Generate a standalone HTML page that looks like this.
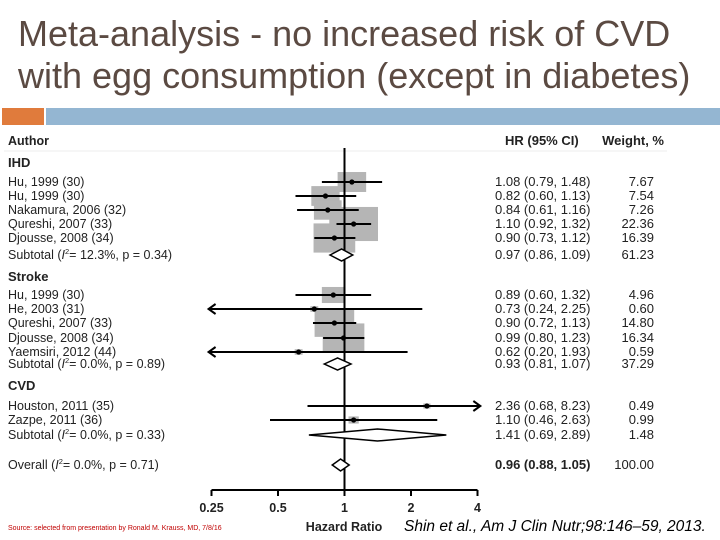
<!DOCTYPE html>
<html><head><meta charset="utf-8">
<style>
html,body{margin:0;padding:0;background:#fff;width:720px;height:540px;overflow:hidden;font-family:"Liberation Sans",sans-serif}
#title{position:absolute;left:18px;top:13px;font-size:36px;line-height:42px;color:#5b4a42;white-space:nowrap}
#ob{position:absolute;left:2px;top:108px;width:42px;height:17px;background:#e07b3c}
#bb{position:absolute;left:46px;top:108px;width:674px;height:17px;background:#94b6d2}
svg{position:absolute;left:0;top:0}
</style></head><body>
<div id="title">Meta-analysis - no increased risk of CVD<br>with egg consumption (except in diabetes)</div>
<div id="ob"></div>
<div id="bb"></div>
<svg id="chart" width="720" height="540"></svg>
<script>
const labels=["Hu, 1999 (30)","Hu, 1999 (30)","Nakamura, 2006 (32)","Qureshi, 2007 (33)","Djousse, 2008 (34)","SUB:Subtotal|12.3%, p = 0.34)","Hu, 1999 (30)","He, 2003 (31)","Qureshi, 2007 (33)","Djousse, 2008 (34)","Yaemsiri, 2012 (44)","SUB:Subtotal|0.0%, p = 0.89)","Houston, 2011 (35)","Zazpe, 2011 (36)","SUB:Subtotal|0.0%, p = 0.33)","OV:Overall|0.0%, p = 0.71)"];
const hr=[1.08,0.82,0.84,1.10,0.90,0.97,0.89,0.73,0.90,0.99,0.62,0.93,2.36,1.10,1.41,0.96];
const lo=[0.79,0.60,0.61,0.92,0.73,0.86,0.60,0.24,0.72,0.80,0.20,0.81,0.68,0.46,0.69,0.88];
const hi=[1.48,1.13,1.16,1.32,1.12,1.09,1.32,2.25,1.13,1.23,1.93,1.07,8.23,2.63,2.89,1.05];
const weights=[7.67,7.54,7.26,22.36,16.39,61.23,4.96,0.60,14.80,16.34,0.59,37.29,0.49,0.99,1.48,100.00];
const rowY=[182,196,210,224,238,255,295,309,323,338,352,364,406,420,435,465];
const groups=[["IHD",163],["Stroke",277],["CVD",386]];
const ticks=[0.25,0.5,1,2,4];
const tickLabels=["0.25","0.5","1","2","4"];
const NS="http://www.w3.org/2000/svg";
const svg=document.getElementById('chart');
const x=v=>344.5+66.5*Math.log2(v);
function el(t,a,p){const e=document.createElementNS(NS,t);for(const k in a)e.setAttribute(k,a[k]);(p||svg).appendChild(e);return e;}
function txt(s,xx,yy,o){const e=el('text',Object.assign({x:xx,y:yy,'font-size':12.5,fill:'#222'},o||{}));e.textContent=s;return e;}
const panel=el('rect',{x:0,y:127,width:667,height:413,fill:'#fff'});


el('line',{x1:4,y1:151,x2:667,y2:151,stroke:'#eee'});
let h;
h=txt("Author",8,145,{'font-weight':'bold','font-size':12.5});

h=txt("HR (95% CI)",505,145,{'font-weight':'bold','font-size':13});

h=txt("Weight, %",664,145,{'font-weight':'bold','font-size':13,'text-anchor':'end'});

groups.forEach(g=>{const t=txt(g[0],8,g[1]+4,{'font-weight':'bold','font-size':13});

});
labels.forEach((l,i)=>{
  if(l.indexOf(':')>=0)return;
  const w=10.3*Math.sqrt(weights[i]);
  const r=el('rect',{x:x(hr[i])-w/2,y:rowY[i]-w*0.35,width:w,height:w*0.7,fill:'#b5b5b5'});
  
  
});
const ref=el('line',{x1:x(1),y1:148,x2:x(1),y2:490,stroke:'#000','stroke-width':2});


const xmin=0.25,xmax=4;
labels.forEach((l,i)=>{
  const y=rowY[i];
  let name=l,kind='study';
  if(l.startsWith('SUB:')||l.startsWith('OV:')){kind=l.startsWith('OV')?'overall':'subtotal';}
  if(kind==='study'){
    const a=Math.max(lo[i],xmin*0.97),b=Math.min(hi[i],xmax*1.03);
    const ln=el('line',{x1:x(a),y1:y,x2:x(b),y2:y,stroke:'#000','stroke-width':2});
    
    
    if(lo[i]<xmin){el('polyline',{points:`${x(a)+7},${y-5} ${x(a)},${y} ${x(a)+7},${y+5}`,fill:'none',stroke:'#000','stroke-width':2});}
    if(hi[i]>xmax){el('polyline',{points:`${x(b)-7},${y-5} ${x(b)},${y} ${x(b)-7},${y+5}`,fill:'none',stroke:'#000','stroke-width':2});}
    const d=el('circle',{cx:x(hr[i]),cy:y,r:2.6,fill:'#000'});
    
    
    const t=txt(name,8,y+4);
    
    
  } else {
    const dm=el('polygon',{points:`${x(lo[i])},${y} ${x(hr[i])},${y-6} ${x(hi[i])},${y} ${x(hr[i])},${y+6}`,fill:'#fff',stroke:'#000','stroke-width':1.5});
    
    
    const p=l.split(':')[1].split('|');
    const t=txt('',8,y+4);
    
    
    t.innerHTML=p[0]+' (<tspan font-style="italic">I</tspan><tspan font-size="7.5" dy="-5">2</tspan><tspan dy="5">= '+p[1]+'</tspan>';
  }
  const bold=kind==='overall'?{'font-weight':'bold'}:{};
  const c=txt(hr[i].toFixed(2)+' ('+lo[i].toFixed(2)+', '+hi[i].toFixed(2)+')',495,y+4,Object.assign({'font-size':13},bold));
  
  
  const wt=txt(weights[i].toFixed(2),654,y+4,{'text-anchor':'end','font-size':13});
  
  
});
const ax=el('line',{x1:x(0.25),y1:490,x2:x(4),y2:490,stroke:'#000','stroke-width':2});


ticks.forEach((v,i)=>{
  el('line',{x1:x(v),y1:490,x2:x(v),y2:496,stroke:'#000','stroke-width':2});
  const t=txt(tickLabels[i],x(v),512,{'text-anchor':'middle','font-weight':'bold','font-size':12.5});
  
  
});
h=txt("Hazard Ratio",344,531,{'text-anchor':'middle','font-weight':'bold','font-size':12.5});

h=txt("Source: selected from presentation by Ronald M. Krauss, MD, 7/8/16",8,530,{'font-size':7,fill:'#c00000'});

h=txt("Shin et al., Am J Clin Nutr;98:146–59, 2013.",404,531,{'font-size':15.5,'font-style':'italic',fill:'#000'});

</script>
</body></html>
